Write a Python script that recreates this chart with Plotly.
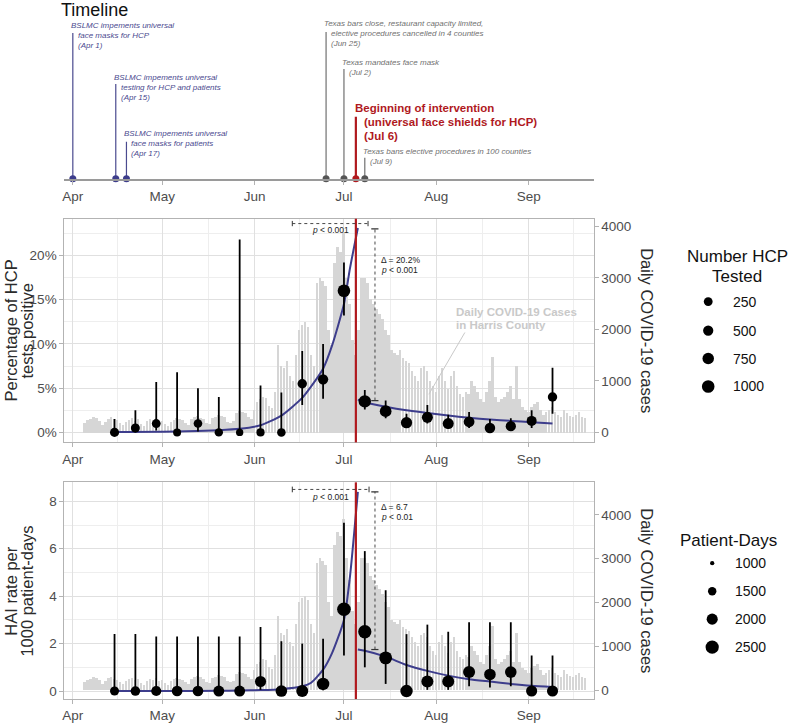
import plotly.graph_objects as go
import pandas as pd
import math

W, H = 791, 723

# ---------------- DATA ----------------
case_start = "2020-04-05"
cases_apr = [180, 240, 260, 300, 280, 230, 150, 200, 270, 310, 260, 240, 190, 140, 210, 250, 280, 230, 260, 170, 130, 220, 260, 240, 280, 200]
cases_may = [230, 170, 130, 200, 250, 280, 260, 240, 180, 150, 260, 300, 330, 290, 260, 190, 160, 280, 310, 350, 330, 300, 200, 180, 220, 380, 420, 400, 380, 300, 260]
cases_jun = [450, 600, 650, 700, 680, 520, 480, 800, 1700, 1300, 1250, 1400, 1100, 1000, 1500, 2000, 2100, 2150, 2050, 1500, 1300, 2900, 3000, 2950, 2850, 2000, 1700, 3300, 3600, 3500]
cases_jul = [3900, 3000, 2500, 1800, 1500, 2000, 3000, 3000, 2900, 2600, 2500, 2400, 2300, 2200, 2000, 1900, 1600, 1550, 1500, 1600, 1450, 1400, 1350, 1200, 1100, 1000, 1250, 1300, 1200, 1000, 900]
cases_aug = [800, 1100, 1250, 1000, 850, 1100, 1200, 900, 750, 700, 800, 750, 1000, 900, 800, 650, 600, 800, 1000, 1470, 700, 600, 650, 700, 800, 900, 650, 1300, 650, 500, 450]
cases_sep = [400, 500, 550, 600, 450, 350, 400, 450, 500, 400, 350, 300, 450, 380, 320, 300, 350, 400, 300, 280]
daily_cases = cases_apr + cases_may + cases_jun + cases_jul + cases_aug + cases_sep

week_dates = ["2020-04-15", "2020-04-22", "2020-04-29", "2020-05-06", "2020-05-13", "2020-05-20",
              "2020-05-27", "2020-06-03", "2020-06-10", "2020-06-17", "2020-06-24", "2020-07-01",
              "2020-07-08", "2020-07-15", "2020-07-22", "2020-07-29", "2020-08-05", "2020-08-12",
              "2020-08-19", "2020-08-26", "2020-09-02", "2020-09-09"]

# HCP percent positive
hcp_pct = [0, 0.5, 1.0, 0, 1.0, 0, 0, 0, 0, 5.5, 6.0, 16.0, 3.5, 2.4, 1.1, 1.7, 1.0, 1.2, 0.5, 0.7, 1.3, 4.0]
hcp_lo  = [0, 0.0, 0.2, 0, 0.1, 0, 0, 0, 0, 3.1, 3.8, 13.2, 2.6, 1.6, 0.5, 1.0, 0.4, 0.5, 0.1, 0.2, 0.5, 2.1]
hcp_hi  = [1.5, 2.5, 5.7, 6.8, 5.0, 4.0, 21.8, 5.3, 4.5, 9.2, 10.0, 19.2, 4.8, 3.6, 2.1, 3.1, 2.0, 2.3, 1.5, 1.6, 2.5, 7.3]
hcp_n   = [300, 280, 250, 120, 220, 180, 30, 150, 200, 350, 500, 1000, 950, 800, 700, 650, 650, 600, 550, 500, 450, 350]

# HAI rate per 1000 patient-days
hai_rate = [0, 0, 0, 0, 0, 0, 0, 0.4, 0, 0, 0.3, 3.45, 2.5, 1.4, 0, 0.4, 0.4, 0.8, 0.7, 0.8, 0, 0]
hai_lo   = [0, 0, 0, 0, 0, 0, 0, 0.05, 0, 0, 0.03, 1.5, 1.0, 0.3, 0, 0.05, 0.05, 0.2, 0.15, 0.2, 0, 0]
hai_hi   = [2.4, 2.4, 2.3, 2.3, 2.3, 2.3, 2.3, 2.7, 2.1, 2.0, 2.2, 7.1, 5.9, 4.25, 2.4, 2.8, 2.5, 2.9, 2.9, 2.9, 1.5, 1.5]
patient_days = [1600, 1700, 1800, 1900, 1900, 1950, 1950, 2000, 2100, 2200, 2300, 2600, 2500, 2400, 2300, 2200, 2200, 2200, 2100, 2100, 2000, 2000]

# fitted segmented models
fit_pre_dates = ["2020-04-15", "2020-05-06", "2020-05-20", "2020-05-27", "2020-06-03", "2020-06-10",
                 "2020-06-17", "2020-06-20", "2020-06-24", "2020-06-27", "2020-07-01", "2020-07-03", "2020-07-05 16:00"]
hcp_fit_pre = [0.05, 0.1, 0.25, 0.4, 0.8, 1.9, 3.9, 5.2, 7.2, 9.8, 14.5, 18.5, 23.1]
fit_post_dates = ["2020-07-05 16:00", "2020-07-08", "2020-07-15", "2020-07-22", "2020-07-29", "2020-08-05",
                  "2020-08-12", "2020-08-19", "2020-08-26", "2020-09-02", "2020-09-09"]
hcp_fit_post = [3.7, 3.4, 2.9, 2.5, 2.2, 1.9, 1.65, 1.45, 1.3, 1.15, 1.0]
hai_fit_pre = [0.0, 0.0, 0.01, 0.02, 0.04, 0.08, 0.2, 0.35, 0.9, 1.6, 3.0, 4.8, 8.4]
hai_fit_post = [1.75, 1.7, 1.45, 1.1, 0.85, 0.65, 0.5, 0.4, 0.3, 0.22, 0.17]

intervention_date = "2020-07-05"

# timeline events
ev_dates = ["2020-04-01", "2020-04-15 10:00", "2020-04-19", "2020-06-25", "2020-07-01", "2020-07-05", "2020-07-08"]
ev_lines = [
    ["BSLMC impements universal", "face masks for HCP", "(Apr 1)"],
    ["BSLMC impements universal", "testing for HCP and patients", "(Apr 15)"],
    ["BSLMC impements universal", "face masks for patients", "(Apr 17)"],
    ["Texas bars close, restaurant capacity limited,", "elective procedures cancelled in 4 counties", "(Jun 25)"],
    ["Texas mandates face mask", "(Jul 2)"],
    ["Beginning of intervention", "(universal face shields for HCP)", "(Jul 6)"],
    ["Texas bans elective procedures in 100 counties", "(Jul 9)"],
]
ev_kind = ["bslmc", "bslmc", "bslmc", "texas", "texas", "main", "texas"]

month_ticks = ["2020-04-01", "2020-05-01", "2020-06-01", "2020-07-01", "2020-08-01", "2020-09-01"]
minor_ticks = ["2020-04-16", "2020-05-16 12:00", "2020-06-16", "2020-07-16 12:00", "2020-08-16 12:00", "2020-09-16"]

hcp_legend_vals = [250, 500, 750, 1000]
pd_legend_vals = [1000, 1500, 2000, 2500]

# ---------------- STYLE / LAYOUT HELPERS ----------------
NAVY = "#3d3d8c"
BSLMC_C = "#4a4a8f"
TEXAS_C = "#707070"
RED = "#b0191e"
BAR_C = "#d6d6d6"
GRID = "#e0e0e0"
GRID_MINOR = "#eeeeee"
BORDER = "#b3b3b3"
TICKC = "#4d4d4d"
DOT = "#000000"
LABEL_GRAY = "#c9c9c9"
FONT = "Liberation Sans, Arial, sans-serif"

def px(xp):
    return xp / W

def py(yp):
    return 1 - yp / H

apr1 = pd.Timestamp("2020-04-01")
PPD = 2.987
def px_to_date(p):
    return apr1 + pd.Timedelta(days=(p - 71) / PPD)

X_L, X_R = 62.5, 593
xrange_ = [px_to_date(X_L), px_to_date(X_R)]
xdom = [px(X_L), px(X_R)]

case_dates = pd.date_range(case_start, periods=len(daily_cases), freq="D")

def hcp_size(n):
    return math.sqrt(max(20.0, 78 + 0.108 * (n - 250)))

def pd_size(n):
    return math.sqrt(max(4.0, 18.5 + 0.105 * (n - 1000)))

fig = go.Figure()

# ---- Middle panel
fig.add_trace(go.Bar(x=case_dates, y=daily_cases, xaxis="x2", yaxis="y3",
                     marker=dict(color=BAR_C, line=dict(width=0)),
                     width=86400000 * 0.85, showlegend=False, hoverinfo="skip"))
fig.add_trace(go.Scatter(x=fit_pre_dates, y=hcp_fit_pre, xaxis="x2", yaxis="y4", mode="lines",
                         line=dict(color=NAVY, width=2, shape="spline", smoothing=0.6), showlegend=False))
fig.add_trace(go.Scatter(x=fit_post_dates, y=hcp_fit_post, xaxis="x2", yaxis="y4", mode="lines",
                         line=dict(color=NAVY, width=2, shape="spline", smoothing=0.6), showlegend=False))
fig.add_trace(go.Scatter(
    x=week_dates, y=hcp_pct, xaxis="x2", yaxis="y4", mode="markers",
    marker=dict(color=DOT, size=[hcp_size(n) for n in hcp_n], line=dict(width=0), opacity=1),
    error_y=dict(type="data", symmetric=False,
                 array=[h - v for h, v in zip(hcp_hi, hcp_pct)],
                 arrayminus=[v - l for v, l in zip(hcp_pct, hcp_lo)],
                 color=DOT, thickness=1.8, width=0),
    showlegend=False, cliponaxis=False))

# ---- Bottom panel
fig.add_trace(go.Bar(x=case_dates, y=daily_cases, xaxis="x3", yaxis="y5",
                     marker=dict(color=BAR_C, line=dict(width=0)),
                     width=86400000 * 0.85, showlegend=False, hoverinfo="skip"))
fig.add_trace(go.Scatter(x=fit_pre_dates, y=hai_fit_pre, xaxis="x3", yaxis="y6", mode="lines",
                         line=dict(color=NAVY, width=2, shape="spline", smoothing=0.6), showlegend=False))
fig.add_trace(go.Scatter(x=fit_post_dates, y=hai_fit_post, xaxis="x3", yaxis="y6", mode="lines",
                         line=dict(color=NAVY, width=2, shape="spline", smoothing=0.6), showlegend=False))
fig.add_trace(go.Scatter(
    x=week_dates, y=hai_rate, xaxis="x3", yaxis="y6", mode="markers",
    marker=dict(color=DOT, size=[pd_size(n) for n in patient_days], line=dict(width=0), opacity=1),
    error_y=dict(type="data", symmetric=False,
                 array=[h - v for h, v in zip(hai_hi, hai_rate)],
                 arrayminus=[v - l for v, l in zip(hai_rate, hai_lo)],
                 color=DOT, thickness=1.8, width=0),
    showlegend=False, cliponaxis=False))

# ---- Timeline
TL_BASE = 179
def tl(yp):
    return TL_BASE - yp

kind_color = {"bslmc": BSLMC_C, "texas": TEXAS_C, "main": RED}
fig.add_trace(go.Scatter(x=ev_dates, y=[0] * len(ev_dates), xaxis="x", yaxis="y", mode="markers",
                         marker=dict(size=7, color=[{"bslmc": "#3d3d8c", "texas": "#555555", "main": RED}[k] for k in ev_kind]),
                         cliponaxis=False, showlegend=False))

ev_line1_y = [26, 78, 134, 24, 63, 108, 152]
ev_stem_top = [33, 84, 142, 32, 69, 117, 158]

shapes = []
annotations = []
for d, lines, kind, y1, st in zip(ev_dates, ev_lines, ev_kind, ev_line1_y, ev_stem_top):
    col = kind_color[kind]
    shapes.append(dict(type="line", xref="x", yref="y", x0=d, x1=d, y0=0, y1=tl(st),
                       line=dict(color=col, width=2.2 if kind == "main" else 1.2), layer="below"))
    if kind == "main":
        step, fs = 14, 11.5
    else:
        step, fs = 10, 8
    for i, t in enumerate(lines):
        if kind == "main":
            txt = "<b>%s</b>" % t
            xs = -2 if i == 0 else 7
        else:
            txt = "<i>%s</i>" % t
            xs = -3 if i == 0 else 4
        annotations.append(dict(x=d, y=tl(y1 + i * step), xref="x", yref="y", text=txt, showarrow=False,
                                xanchor="left", yanchor="middle", xshift=xs, borderpad=0,
                                font=dict(family=FONT, size=fs, color=col)))

annotations.append(dict(x=px(58), y=py(10.5), xref="paper", yref="paper", text="Timeline", showarrow=False,
                        xanchor="left", yanchor="middle", borderpad=0,
                        font=dict(family=FONT, size=18, color="#111111")))

# ---- panel decorations
MID_T, MID_B = 219, 443
BOT_T, BOT_B = 483, 700
for (t, b) in [(MID_T, MID_B), (BOT_T, BOT_B)]:
    shapes.append(dict(type="line", xref="x2", yref="paper", x0=intervention_date, x1=intervention_date,
                       y0=py(b), y1=py(t), line=dict(color=RED, width=2.2), layer="above"))

DASH = dict(color="#333333", width=0.9, dash="dot")
br_x0, br_x1 = "2020-06-13 16:00", "2020-07-09 02:00"
vline_x = "2020-07-11 10:00"
shapes += [
    dict(type="line", xref="x2", yref="y4", x0=br_x0, x1=br_x1, y0=23.6, y1=23.6, line=DASH, layer="above"),
    dict(type="line", xref="x2", yref="y4", x0=br_x0, x1=br_x0, y0=23.3, y1=23.9, line=dict(color="#333", width=1), layer="above"),
    dict(type="line", xref="x2", yref="y4", x0=br_x1, x1=br_x1, y0=23.3, y1=23.9, line=dict(color="#333", width=1), layer="above"),
    dict(type="line", xref="x2", yref="y4", x0=vline_x, x1=vline_x, y0=3.6, y1=23.0, line=DASH, layer="above"),
    dict(type="line", xref="x2", yref="y4", x0="2020-07-10 04:00", x1="2020-07-12 14:00", y0=23.0, y1=23.0, line=dict(color="#333", width=1.2), layer="above"),
    dict(type="line", xref="x2", yref="y4", x0="2020-07-10 04:00", x1="2020-07-12 14:00", y0=3.6, y1=3.6, line=dict(color="#333", width=1.2), layer="above"),
]
shapes += [
    dict(type="line", xref="x3", yref="y6", x0=br_x0, x1="2020-07-09 10:00", y0=8.5, y1=8.5, line=DASH, layer="above"),
    dict(type="line", xref="x3", yref="y6", x0=br_x0, x1=br_x0, y0=8.38, y1=8.62, line=dict(color="#333", width=1), layer="above"),
    dict(type="line", xref="x3", yref="y6", x0="2020-07-09 10:00", x1="2020-07-09 10:00", y0=8.38, y1=8.62, line=dict(color="#333", width=1), layer="above"),
    dict(type="line", xref="x3", yref="y6", x0=vline_x, x1=vline_x, y0=1.75, y1=8.4, line=DASH, layer="above"),
    dict(type="line", xref="x3", yref="y6", x0="2020-07-10 04:00", x1="2020-07-12 14:00", y0=8.4, y1=8.4, line=dict(color="#333", width=1.2), layer="above"),
    dict(type="line", xref="x3", yref="y6", x0="2020-07-10 04:00", x1="2020-07-12 14:00", y0=1.75, y1=1.75, line=dict(color="#333", width=1.2), layer="above"),
]

SMALL = dict(family=FONT, size=8.5, color="#222222")
def pann(x, y, text, xref, yref, xanchor="left"):
    annotations.append(dict(x=x, y=y, xref=xref, yref=yref, text=text, showarrow=False,
                            xanchor=xanchor, yanchor="middle", borderpad=0, font=SMALL))

pann("2020-06-26 12:00", 22.9, "<i>p</i> &lt; 0.001", "x2", "y4", "center")
pann("2020-07-13", 19.5, "Δ = 20.2%", "x2", "y4")
pann("2020-07-13", 18.4, "<i>p</i> &lt; 0.001", "x2", "y4")
pann("2020-06-26 12:00", 8.2, "<i>p</i> &lt; 0.001", "x3", "y6", "center")
pann("2020-07-13", 7.75, "Δ = 6.7", "x3", "y6")
pann("2020-07-13", 7.35, "<i>p</i> &lt; 0.01", "x3", "y6")

# Harris county label (two lines, tight spacing) with leader line
for txt, yv in [("Daily COVID-19 Cases", 2330), ("in Harris County", 2080)]:
    annotations.append(dict(x="2020-08-07 05:00", y=yv, xref="x2", yref="y3",
                            text="<b>%s</b>" % txt, showarrow=False,
                            xanchor="left", yanchor="middle", borderpad=0,
                            font=dict(family=FONT, size=11.5, color=LABEL_GRAY)))
shapes.append(dict(type="line", xref="x2", yref="y3", x0="2020-08-10 14:00", x1="2020-07-29 12:00",
                   y0=1940, y1=740, line=dict(color=LABEL_GRAY, width=1), layer="above"))

# axis titles (one annotation per line for tight spacing)
TITLE_FONT = dict(family=FONT, size=16.5, color="#2b2b2b")
def vtitle(xp, yp, text, angle):
    annotations.append(dict(x=px(xp), y=py(yp), xref="paper", yref="paper", text=text, textangle=angle,
                            showarrow=False, xanchor="center", yanchor="middle", borderpad=0, font=TITLE_FONT))

vtitle(9, (MID_T + MID_B) / 2, "Percentage of HCP", -90)
vtitle(25, (MID_T + MID_B) / 2, "tests positive", -90)
vtitle(9, (BOT_T + BOT_B) / 2, "HAI rate per", -90)
vtitle(25, (BOT_T + BOT_B) / 2, "1000 patient-days", -90)
for (t, b) in [(MID_T, MID_B), (BOT_T, BOT_B)]:
    vtitle(647, (t + b) / 2, "Daily COVID-19 cases", 90)

# size legends (drawn manually)
LEG_T = dict(family=FONT, size=17, color="#111111")
LEG_L = dict(family=FONT, size=14, color="#111111")
annotations.append(dict(x=px(737), y=py(257), xref="paper", yref="paper", text="Number HCP", showarrow=False,
                        xanchor="center", yanchor="middle", font=LEG_T))
annotations.append(dict(x=px(737), y=py(277), xref="paper", yref="paper", text="Tested", showarrow=False,
                        xanchor="center", yanchor="middle", font=LEG_T))
for v, yp in zip(hcp_legend_vals, [302, 331, 359, 387]):
    r = hcp_size(v) / 2
    shapes.append(dict(type="circle", xref="paper", yref="paper", xsizemode="pixel", ysizemode="pixel",
                       xanchor=px(708), yanchor=py(yp), x0=-r, x1=r, y0=-r, y1=r,
                       fillcolor=DOT, line=dict(width=0)))
    annotations.append(dict(x=px(732), y=py(yp), xref="paper", yref="paper", text=str(v), showarrow=False,
                            xanchor="left", yanchor="middle", borderpad=0, font=LEG_L))
annotations.append(dict(x=px(728), y=py(541), xref="paper", yref="paper", text="Patient-Days", showarrow=False,
                        xanchor="center", yanchor="middle", font=LEG_T))
for v, yp in zip(pd_legend_vals, [564, 592, 620, 648]):
    r = pd_size(v) / 2
    shapes.append(dict(type="circle", xref="paper", yref="paper", xsizemode="pixel", ysizemode="pixel",
                       xanchor=px(712), yanchor=py(yp), x0=-r, x1=r, y0=-r, y1=r,
                       fillcolor=DOT, line=dict(width=0)))
    annotations.append(dict(x=px(734), y=py(yp), xref="paper", yref="paper", text=str(v), showarrow=False,
                            xanchor="left", yanchor="middle", borderpad=0, font=LEG_L))

# ---------------- AXES ----------------
TICKF = dict(family=FONT, size=13.5, color=TICKC)
date_axis_common = dict(type="date", range=xrange_, domain=xdom, tickvals=month_ticks, tickformat="%b",
                        ticks="outside", ticklen=4, tickcolor=BORDER, tickfont=TICKF, zeroline=False)

panel_x = dict(**date_axis_common, showgrid=True, gridcolor=GRID, gridwidth=1,
               minor=dict(tickvals=minor_ticks, showgrid=True, gridcolor=GRID_MINOR, gridwidth=0.8, ticks=""),
               showline=True, mirror=True, linecolor=BORDER, linewidth=1.2)

fig.update_layout(
    width=W, height=H, margin=dict(l=0, r=0, t=0, b=0),
    paper_bgcolor="white", plot_bgcolor="white", showlegend=False, bargap=0,
    font=dict(family=FONT),
    xaxis=dict(**date_axis_common, anchor="y", showgrid=False, showline=True, linecolor="#9a9a9a", linewidth=1.5),
    yaxis=dict(domain=[py(TL_BASE), 1], range=[0, TL_BASE], visible=False, anchor="x"),
    xaxis2=dict(**panel_x, anchor="y3"),
    yaxis3=dict(domain=[py(MID_B), py(MID_T)], anchor="x2", side="right", range=[-194, 4150],
                tickvals=[0, 1000, 2000, 3000, 4000], showgrid=False, zeroline=False,
                ticks="outside", ticklen=4, tickcolor=BORDER, tickfont=TICKF,
                showline=True, mirror=True, linecolor=BORDER, linewidth=1.2),
    yaxis4=dict(overlaying="y3", anchor="x2", side="left", range=[-1.13, 24.15],
                tickvals=[0, 5, 10, 15, 20], ticktext=["0%", "5%", "10%", "15%", "20%"],
                showgrid=True, gridcolor=GRID, gridwidth=1, zeroline=False,
                minor=dict(tickvals=[2.5, 7.5, 12.5, 17.5, 22.5], showgrid=True, gridcolor=GRID_MINOR, gridwidth=0.8, ticks=""),
                ticks="outside", ticklen=4, tickcolor=BORDER, tickfont=TICKF),
    xaxis3=dict(**panel_x, anchor="y5"),
    yaxis5=dict(domain=[py(BOT_B), py(BOT_T)], anchor="x3", side="right", range=[-193, 4739],
                tickvals=[0, 1000, 2000, 3000, 4000], showgrid=False, zeroline=False,
                ticks="outside", ticklen=4, tickcolor=BORDER, tickfont=TICKF,
                showline=True, mirror=True, linecolor=BORDER, linewidth=1.2),
    yaxis6=dict(overlaying="y5", anchor="x3", side="left", range=[-0.337, 8.8],
                tickvals=[0, 2, 4, 6, 8], showgrid=True, gridcolor=GRID, gridwidth=1, zeroline=False,
                minor=dict(tickvals=[1, 3, 5, 7], showgrid=True, gridcolor=GRID_MINOR, gridwidth=0.8, ticks=""),
                ticks="outside", ticklen=4, tickcolor=BORDER, tickfont=TICKF),
    shapes=shapes, annotations=annotations,
)

fig.write_html("out.html", config={"displayModeBar": False},
               post_script="document.body.style.margin='0px';document.body.style.padding='0px';document.body.style.overflow='hidden';")
